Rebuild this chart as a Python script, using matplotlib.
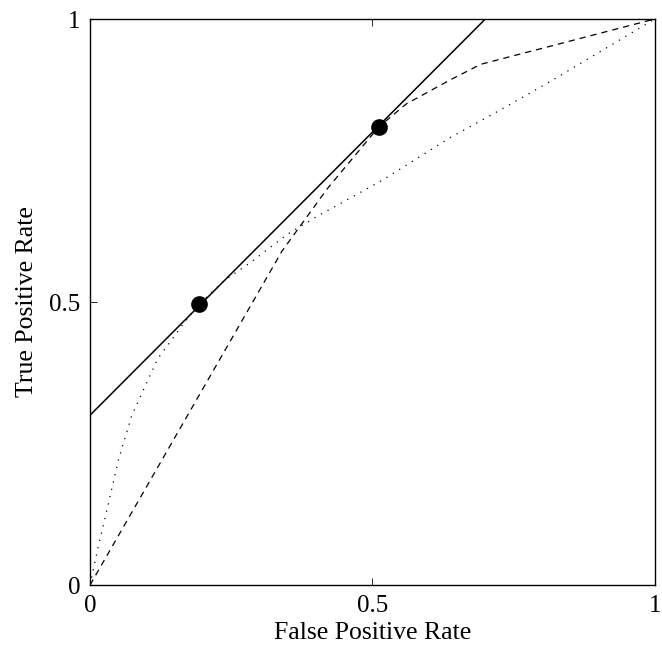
import matplotlib
matplotlib.use('Agg')
import matplotlib.pyplot as plt
import numpy as np

plt.rcParams['font.family'] = ['Liberation Serif', 'DejaVu Serif']

# ROC curve A (dashed)
fpr_a = [0.0, 0.34, 0.42, 0.511, 0.56, 0.637, 0.692, 1.0]
tpr_a = [0.0, 0.59, 0.70, 0.809, 0.85, 0.892, 0.92, 1.0]

# ROC curve B (dotted)
fpr_b = [0.0, 0.015, 0.027, 0.05, 0.074, 0.12, 0.168, 0.193, 0.239, 0.283, 0.35, 0.40, 0.519, 0.637, 0.717, 0.814, 1.0]
tpr_b = [0.0, 0.07, 0.12, 0.22, 0.30, 0.40, 0.465, 0.496, 0.539, 0.569, 0.62, 0.65, 0.716, 0.79, 0.834, 0.889, 1.0]

# iso-performance line
iso_intercept = 0.3
iso_slope = 1.0
iso_x = [0.0, 1.0]

# optimal operating points
opt_x = [0.193, 0.511]
opt_y = [0.496, 0.809]

fig = plt.figure(figsize=(6.62, 6.49), dpi=100)
ax = fig.add_axes([0.136, 0.0986, 0.853, 0.8721])

ax.plot(fpr_a, tpr_a, 'k--', lw=0.9, dashes=(5, 4))
ax.plot(fpr_b, tpr_b, 'k:', lw=0.9, dashes=(1, 5))
iso_y = [iso_intercept + iso_slope * v for v in iso_x]
ax.plot(iso_x, iso_y, 'k-', lw=1.1)
ax.plot(opt_x, opt_y, 'ko', ms=11)

ax.set_xlim(0, 1)
ax.set_ylim(0, 1)
ax.set_xticks([0, 0.5, 1])
ax.set_xticklabels(['0', '0.5', '1'])
ax.set_yticks([0, 0.5, 1])
ax.set_yticklabels(['0', '0.5', '1'])
ax.tick_params(direction='in', length=5, width=0.6, labelsize=18, pad=7, top=True)
for s in ax.spines.values():
    s.set_linewidth(1.0)

ax.set_xlabel('False Positive Rate', fontsize=18.5, labelpad=4)
ax.set_ylabel('True Positive Rate', fontsize=18.5, labelpad=8)

fig.savefig('out.png', dpi=100)
